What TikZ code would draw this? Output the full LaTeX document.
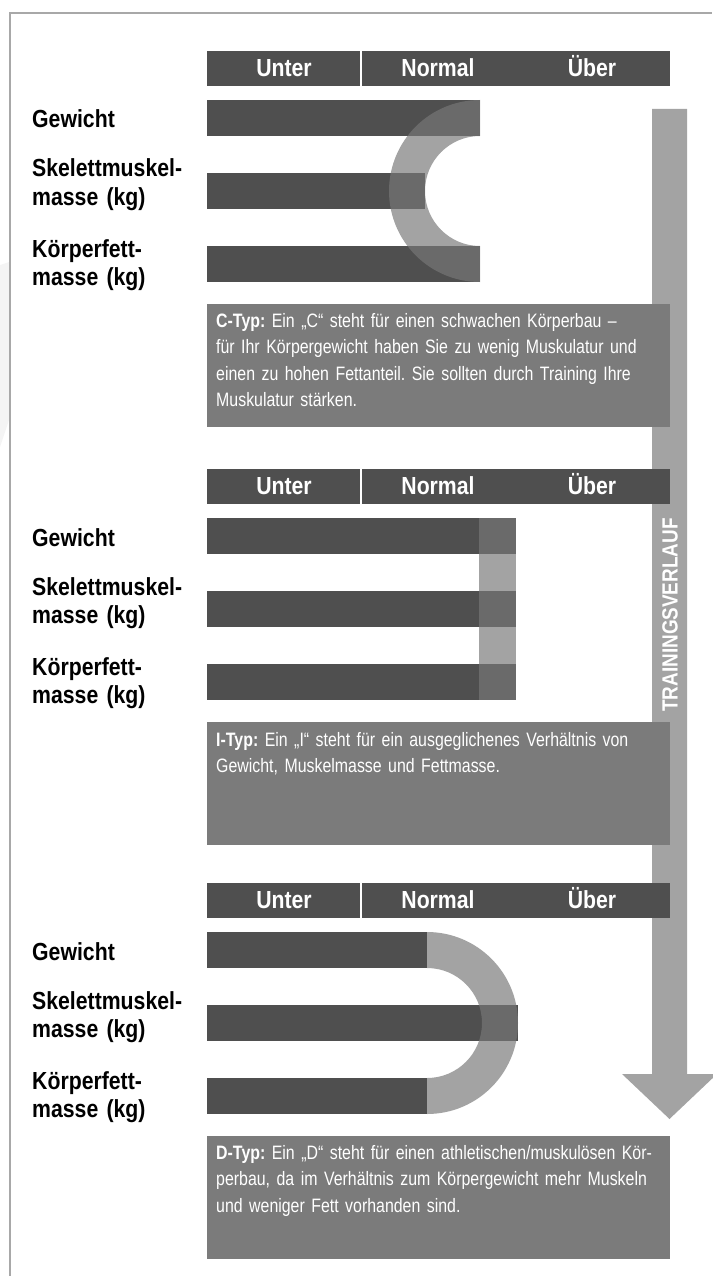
\documentclass[tikz,border=0pt]{standalone}
\usepackage{fontspec}
\setmainfont{Liberation Sans}[FakeStretch=0.86]
\newfontfamily\schmal{Liberation Sans}[FakeStretch=0.82]
\usepackage{xcolor}
\usepackage{tikz}
\usetikzlibrary{calc}
\definecolor{Balken}  {RGB}{79, 79, 79}
\definecolor{Bogen}   {RGB}{120,120,120}
\definecolor{Kasten}  {RGB}{123,123,123}
\definecolor{Pfeil}   {RGB}{163,163,163}
\definecolor{Rahmen}  {RGB}{168,168,168}
\definecolor{Schatten}{RGB}{244,244,244}
\tikzset{
  balken/.style={fill=Balken},
  bogen/.style={fill=Bogen,fill opacity=0.68},
  kopftext/.style={text=white,font=\bfseries\fontsize{24.7}{28}\selectfont,anchor=base,inner sep=0pt},
  zeile/.style={font=\bfseries\fontsize{24.7}{28.3}\selectfont,text width=170pt,align=left,anchor=base west,inner sep=0pt},
  infotext/.style={text=white,font=\schmal\fontsize{19.4}{26.5}\selectfont\frenchspacing,text width=450pt,align=left,anchor=base west,inner sep=0pt}
}

\begin{document}
\begin{tikzpicture}[x=1pt,y=-1pt]
      \useasboundingbox (0,0) rectangle (712,1276);
      \fill[Schatten] (0,265) -- (9,262) -- (9,420) -- (0,447) -- cycle;
      \draw[Rahmen,line width=1.5pt] (10,1276) -- (10,13) -- (712,13);
      \fill[Pfeil] (652,109) -- (687,109) -- (687,1074) -- (717,1074) -- (669.5,1119)
        -- (622,1074) -- (652,1074) -- cycle;
      \node[text=white,font=\bfseries\fontsize{22}{24}\selectfont,rotate=90] (verlauf) at (670,615) {TRAININGSVERLAUF};
      \foreach \s/\typ in {100/C,518/I,932/D}{
        \fill[Balken] (207,\s-49) rectangle (670,\s-14);
        \draw[white,line width=1.5pt] (361,\s-49) -- (361,\s-14);
        \node[kopftext] (unter\typ)  at (284,\s-23.3) {Unter};
        \node[kopftext] (normal\typ) at (438,\s-23.3) {Normal};
        \node[kopftext] (ueber\typ)  at (592,\s-23.3) {Über};
        \node[zeile] (gewicht\typ) at (32,\s+28) {Gewicht};
        \node[zeile] (muskel\typ)  at (32,\s+77) {Skelettmuskel-\\masse (kg)};
        \node[zeile] (fett\typ)    at (32,\s+157) {Körperfett-\\masse (kg)};
        \fill[Kasten] (207,\s+204) rectangle (670,\s+327);
      }
      \fill[balken] (207,100) rectangle (480,136);
      \fill[balken] (207,173) rectangle (425,209);
      \fill[balken] (207,246) rectangle (480,282);
      \fill[bogen] (480,100) arc[start angle=270,end angle=90,radius=91] -- (480,246)
        arc[start angle=90,end angle=270,radius=55] -- cycle;
      \foreach \y in {518,591,664}{
        \fill[balken] (207,\y) rectangle (516,\y+36);
      }
      \fill[bogen] (479,518) rectangle (516,700);
      \fill[balken] (207,932) rectangle (427,968);
      \fill[balken] (207,1005) rectangle (518,1041);
      \fill[balken] (207,1078) rectangle (427,1114);
      \fill[bogen] (427,932) arc[start angle=270,end angle=450,radius=91] -- (427,1078)
        arc[start angle=90,end angle=-90,radius=55] -- cycle;
      \node[infotext] (infoC) at (216,327) {\textbf{C-Typ:} Ein „C“ steht für einen schwachen Körperbau –\\für Ihr Körpergewicht haben Sie zu wenig Muskulatur und\\einen zu hohen Fettanteil. Sie sollten durch Training Ihre\\Muskulatur stärken.};
      \node[infotext] (infoI) at (216,746) {\textbf{I-Typ:} Ein „I“ steht für ein ausgeglichenes Verhältnis von\\Gewicht, Muskelmasse und Fettmasse.};
      \node[infotext] (infoD) at (216,1159) {\textbf{D-Typ:} Ein „D“ steht für einen athletischen/muskulösen Kör-\\perbau, da im Verhältnis zum Körpergewicht mehr Muskeln\\und weniger Fett vorhanden sind.};
    \end{tikzpicture}
\end{document}
